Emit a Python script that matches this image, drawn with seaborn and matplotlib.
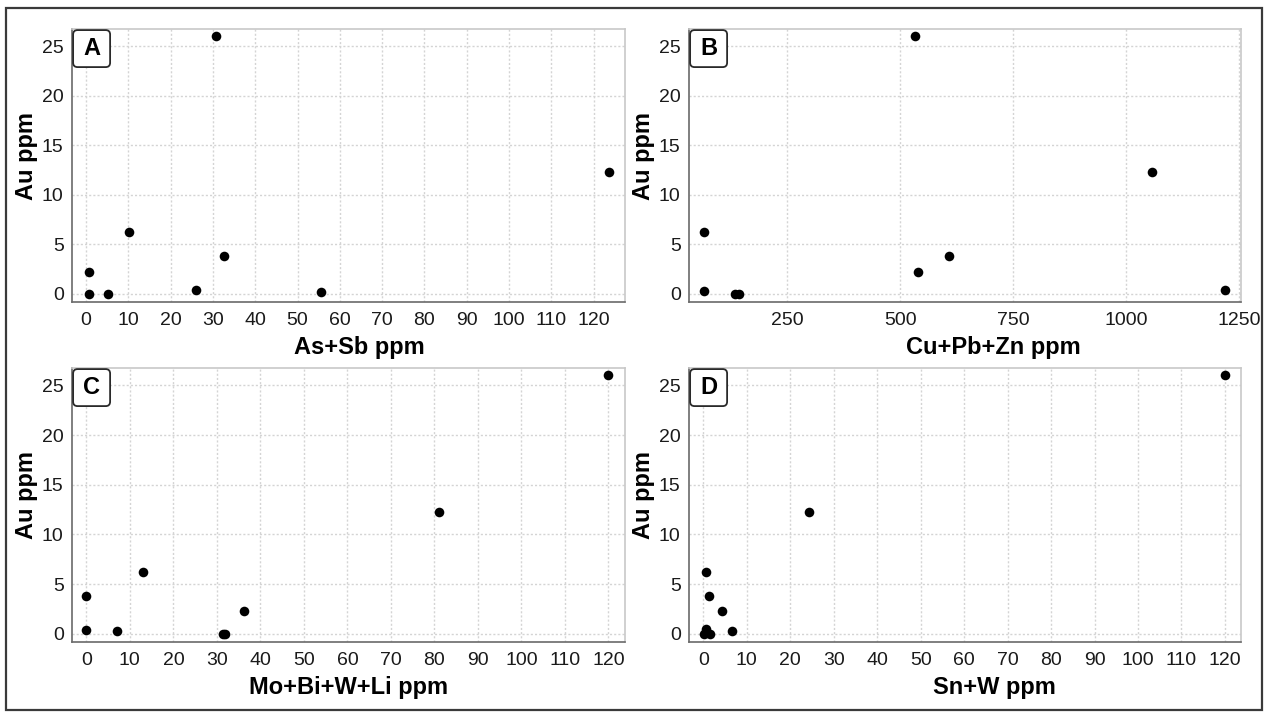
import matplotlib
matplotlib.use("Agg")
import matplotlib.pyplot as plt
from matplotlib.patches import FancyBboxPatch, Rectangle
import seaborn as sns
import pandas as pd

# ----------------- DATA -----------------
PANEL_LETTERS = ["A", "B", "C", "D"]
X_LABELS = ["As+Sb ppm", "Cu+Pb+Zn ppm", "Mo+Bi+W+Li ppm", "Sn+W ppm"]
Y_LABEL = "Au ppm"

as_sb = [0.8, 0.8, 5.3, 10.2, 26.0, 30.8, 32.6, 55.6, 123.6]
au_a = [2.25, 0.0, 0.0, 6.2, 0.35, 26.0, 3.85, 0.2, 12.3]

cu_pb_zn = [66, 66, 133, 142, 532, 539, 608, 1056, 1218]
au_b = [0.25, 6.2, 0.0, 0.0, 26.0, 2.25, 3.85, 12.3, 0.35]

mo_bi_w_li = [0.0, 0.0, 7.0, 13.1, 31.5, 31.9, 36.2, 81.0, 120.0]
au_c = [3.85, 0.4, 0.25, 6.2, 0.0, 0.0, 2.25, 12.3, 26.0]

sn_w = [0.5, 1.3, 4.2, 6.7, 24.2, 120.0, 0.5, 0.2, 1.6]
au_d = [6.2, 3.85, 2.25, 0.25, 12.3, 26.0, 0.45, 0.0, 0.0]

X_TICKS_120 = list(range(0, 121, 10))
X_TICKS_B = [250, 500, 750, 1000, 1250]
Y_TICKS = [0, 5, 10, 15, 20, 25]
# ------------------------------------------------------------------

W, H = 1265, 712
sns.set_theme(style="whitegrid")
plt.rcParams["font.family"] = ["Liberation Sans", "DejaVu Sans"]

fig = plt.figure(figsize=(W / 100, H / 100), dpi=100)

# outer frame round the whole figure
fig.patches.append(Rectangle((6 / W, 2 / H), 1256 / W, 702 / H, transform=fig.transFigure,
                             fill=False, ec="#3a3a3a", lw=1.6))


def px_axes(left, top, right, bottom):
    return fig.add_axes([left / W, 1 - bottom / H, (right - left) / W, (bottom - top) / H])


# axes, x data, y data, x limits, x ticks, x position of the x label
panels = [
    (px_axes(72, 29, 625, 302), as_sb, au_a, (-3.3, 127.4), X_TICKS_120, 0.519),
    (px_axes(689, 29, 1241, 302), cu_pb_zn, au_b, (32, 1254), X_TICKS_B, 0.552),
    (px_axes(72, 368, 625, 642), mo_bi_w_li, au_c, (-3.3, 123.8), X_TICKS_120, 0.501),
    (px_axes(689, 368, 1241, 642), sn_w, au_d, (-3.3, 123.7), X_TICKS_120, 0.554),
]

for i, (ax, xs, ys, xlim, xticks, xlab_pos) in enumerate(panels):
    df = pd.DataFrame({"x": xs, "y": ys})
    sns.scatterplot(data=df, x="x", y="y", ax=ax, color="black", s=48,
                    edgecolor="black", linewidth=0, zorder=3)
    ax.set_xlim(*xlim)
    ax.set_ylim(-0.82, 26.75)
    ax.set_xticks(xticks)
    ax.set_yticks(Y_TICKS)
    ax.grid(True, color="#d4d4d4", linestyle=(0, (1.5, 1.5)), linewidth=1.0)
    ax.set_facecolor("white")
    for side in ["top", "right"]:
        ax.spines[side].set_color("#c8c8c8")
        ax.spines[side].set_linewidth(1.2)
    for side in ["left", "bottom"]:
        ax.spines[side].set_color("#6a6a6a")
        ax.spines[side].set_linewidth(1.2)
    ax.tick_params(axis="both", which="major", direction="out", length=4, width=1,
                   color="#555555", labelsize=14, labelcolor="#1a1a1a", pad=3)
    ax.tick_params(axis="y", pad=2)
    ax.set_xlabel(X_LABELS[i], fontsize=17, fontweight="bold", color="black", labelpad=5)
    ax.set_ylabel(Y_LABEL, fontsize=17, fontweight="bold", color="black", labelpad=3)
    ax.xaxis.label.set_x(xlab_pos)
    ax.yaxis.label.set_y(0.535)

    # boxed panel letter in the upper left corner
    ax_w = ax.get_position().width * W
    ax_h = ax.get_position().height * H
    bw, bh = 37 / ax_w, 37 / ax_h
    ax.add_patch(FancyBboxPatch((0.002, 1 - bh - 0.004), bw, bh, transform=ax.transAxes,
                                boxstyle="round,pad=0,rounding_size=0.008",
                                mutation_aspect=ax_w / ax_h,
                                fc="white", ec="#2a2a2a", lw=1.3, zorder=5, clip_on=False))
    ax.text(0.002 + bw / 2, 1 - bh / 2 - 0.004, PANEL_LETTERS[i], transform=ax.transAxes,
            ha="center", va="center", fontsize=17, fontweight="bold", color="black", zorder=6)

fig.savefig("out.png", dpi=100)
